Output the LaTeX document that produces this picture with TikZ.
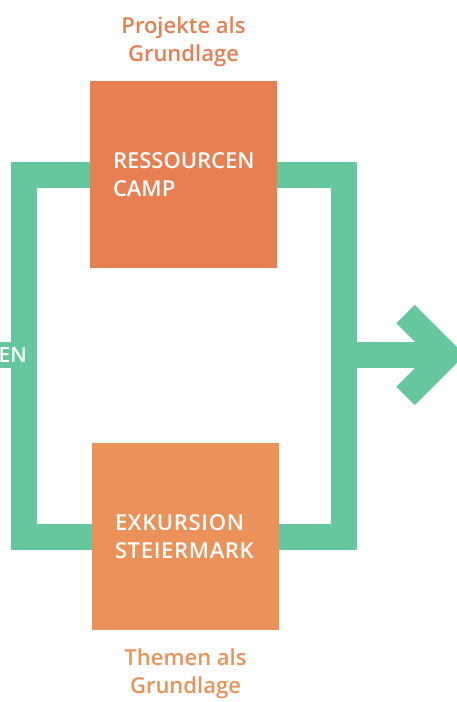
\documentclass[tikz,border=0pt]{standalone}
\usepackage{fontspec}
\setmainfont{Open Sans}
\newfontfamily\semibold{Open Sans Semibold}
\usepackage{xcolor}
\usetikzlibrary{positioning}

\definecolor{flowgreen}{HTML}{66C69E}
\definecolor{campfill}{HTML}{E87F52}
\definecolor{tourfill}{HTML}{EB925B}

\begin{document}
\begin{tikzpicture}[
			x=1pt, y=-1pt,
			block/.style={rectangle, minimum height=187pt, text width=141pt, inner xsep=23pt, inner ysep=0pt, align=left, text=white, font=\semibold\fontsize{22}{28}\selectfont},
			note/.style={inner sep=0pt, align=center, font=\semibold\fontsize{22}{28}\selectfont},
			bar/.style={draw=flowgreen, line width=26pt, line join=miter},
			stub/.style={fill=flowgreen, text=white, minimum height=26pt, inner xsep=2pt, font=\semibold\fontsize{21}{28}\selectfont}
		]
		\useasboundingbox (0,0) rectangle (456,702);

		% Blocks
		\node[block, fill=campfill] (camp) at (183.5,174.5) {RESSOURCEN\\CAMP};
		\node[block, fill=tourfill] (tour) at (185.5,536.5) {\addfontfeatures{LetterSpace=3}EXKURSION\\STEIERMARK};

		% Notes
		\node[note, text=campfill, above=14pt of camp] (projekte) {Projekte als\\Grundlage};
		\node[note, text=tourfill, below=18pt of tour] (themen) {Themen als\\Grundlage};

		% Junctions
		\coordinate (inlet) at (24,355);
		\coordinate (outlet) at (343.5,355);
		\coordinate (tip) at (446.6,355);

		% Brackets
		\draw[bar] (camp.west) -| (inlet) |- (tour.west);
		\draw[bar] (camp.east) -| (outlet) |- (tour.east);

		% Incoming stub
		\node[stub, anchor=east] (incoming) at (29,355) {EN};

		% Outgoing arrow
		\draw[bar] (outlet) -- ([xshift=-7pt]tip);
		\draw[bar] ([shift={(-41,-41)}]tip) -- (tip) -- ++(-41,41);

		\end{tikzpicture}
\end{document}
